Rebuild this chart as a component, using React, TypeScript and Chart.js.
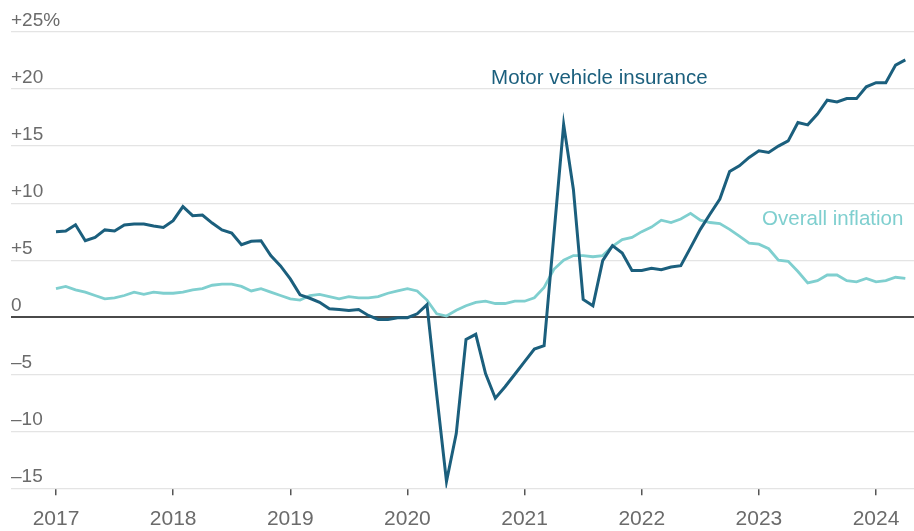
import React, { useEffect, useRef } from "react";
import { Chart, registerables } from "chart.js";

Chart.register(...registerables);

// Monthly data, January 2017 through April 2024 (year-over-year % change)
const START_YEAR = 2017;

const motorVehicleInsurance = [
  7.5, 7.56, 8.1, 6.7, 7.0, 7.65, 7.56, 8.08, 8.17, 8.17, 8.0, 7.87,
  8.46, 9.7, 8.9, 8.96, 8.25, 7.65, 7.38, 6.36, 6.65, 6.7, 5.4, 4.5,
  3.36, 1.96, 1.66, 1.31, 0.73, 0.67, 0.59, 0.67, 0.15, -0.2, -0.2, -0.05,
  -0.05, 0.3, 1.1, -6.8, -14.4, -10.2, -1.95, -1.5, -4.95, -7.1, -6.1, -5.0,
  -3.9, -2.8, -2.5, 7.2, 16.9, 11.2, 1.55, 1.0, 4.96, 6.27, 5.63, 4.09,
  4.09, 4.29, 4.17, 4.4, 4.52, 6.1, 7.7, 9.05, 10.36, 12.77, 13.27, 14.0,
  14.58, 14.44, 15.0, 15.45, 17.06, 16.86, 17.8, 19.02, 18.87, 19.16, 19.16, 20.2,
  20.56, 20.56, 22.1, 22.55,
];

const overallInflation = [
  2.5, 2.7, 2.4, 2.2, 1.9, 1.6, 1.7, 1.9, 2.2, 2.0, 2.2, 2.1,
  2.1, 2.2, 2.4, 2.5, 2.8, 2.9, 2.9, 2.7, 2.3, 2.5, 2.2, 1.9,
  1.6, 1.5, 1.9, 2.0, 1.8, 1.6, 1.8, 1.7, 1.7, 1.8, 2.1, 2.3,
  2.5, 2.3, 1.5, 0.3, 0.1, 0.6, 1.0, 1.3, 1.4, 1.2, 1.2, 1.4,
  1.4, 1.7, 2.6, 4.2, 5.0, 5.4, 5.4, 5.3, 5.4, 6.2, 6.8, 7.0,
  7.5, 7.9, 8.5, 8.3, 8.6, 9.1, 8.5, 8.3, 8.2, 7.7, 7.1, 6.5,
  6.4, 6.0, 5.0, 4.9, 4.0, 3.0, 3.2, 3.7, 3.7, 3.2, 3.1, 3.4,
  3.1, 3.2, 3.5, 3.4,
];

const yearTicks = [2017, 2018, 2019, 2020, 2021, 2022, 2023, 2024];
const yTickValues = [-15, -10, -5, 0, 5, 10, 15, 20, 25];

const X_MIN = 2016.616;
const X_MAX = 2024.324;
const Y_MIN = -15;
const Y_MAX = 25;

const MV_COLOR = "#1b5f7d";
const INF_COLOR = "#7fcfcf";
const FONT = "'Liberation Sans', Arial, sans-serif";

const seriesLabels = [
  { text: "Motor vehicle insurance", x: 2020.714, y: 20.97, color: MV_COLOR },
  { text: "Overall inflation", x: 2023.027, y: 8.55, color: INF_COLOR },
];

function yLabel(v: number): string {
  if (v === 25) return "+25%";
  if (v > 0) return "+" + v;
  if (v < 0) return "\u2013" + Math.abs(v);
  return "0";
}

const toPoints = (arr: number[]) =>
  arr.map((v, i) => ({ x: START_YEAR + i / 12, y: v }));

const labelPlugin = {
  id: "seriesLabels",
  afterDatasetsDraw(chart: any) {
    const { ctx, scales } = chart;
    const xs = scales.x;
    const ys = scales.y;
    ctx.save();
    ctx.font = `20.5px ${FONT}`;
    ctx.textBaseline = "middle";
    ctx.textAlign = "left";
    for (const l of seriesLabels) {
      ctx.fillStyle = l.color;
      ctx.fillText(l.text, xs.getPixelForValue(l.x), ys.getPixelForValue(l.y));
    }
    ctx.restore();
  },
};

export default function App() {
  const canvasRef = useRef<HTMLCanvasElement | null>(null);

  useEffect(() => {
    document.body.style.margin = "0";
    const canvas = canvasRef.current;
    if (!canvas) return;
    const chart = new Chart(canvas, {
      type: "line",
      data: {
        datasets: [
          {
            label: "Motor vehicle insurance",
            data: toPoints(motorVehicleInsurance),
            borderColor: MV_COLOR,
            borderWidth: 3,
            pointRadius: 0,
            tension: 0,
            fill: false,
          },
          {
            label: "Overall inflation",
            data: toPoints(overallInflation),
            borderColor: INF_COLOR,
            borderWidth: 2.8,
            pointRadius: 0,
            tension: 0,
            fill: false,
          },
        ],
      },
      options: {
        responsive: false,
        animation: false,
        devicePixelRatio: 1,
        layout: { padding: { left: 11, right: 0, top: 32, bottom: 0 } },
        plugins: {
          legend: { display: false },
          tooltip: { enabled: false },
          title: { display: false },
        },
        scales: {
          x: {
            type: "linear",
            min: X_MIN,
            max: X_MAX,
            afterBuildTicks: (scale: any) => {
              scale.ticks = yearTicks.map((v) => ({ value: v }));
            },
            afterFit: (scale: any) => {
              scale.height = 42.7;
            },
            border: { display: false },
            grid: {
              display: true,
              drawOnChartArea: false,
              drawTicks: true,
              tickLength: 7,
              color: "#555",
              lineWidth: 1.5,
            },
            ticks: {
              autoSkip: false,
              maxRotation: 0,
              padding: 11,
              color: "#6b6b6b",
              font: { family: FONT, size: 21 },
              callback: (v: any) => String(v),
            },
          },
          y: {
            type: "linear",
            min: Y_MIN,
            max: Y_MAX,
            afterBuildTicks: (scale: any) => {
              scale.ticks = yTickValues.map((v) => ({ value: v }));
            },
            afterFit: (scale: any) => {
              scale.paddingTop = 0;
              scale.paddingBottom = 0;
            },
            border: { display: false },
            grid: {
              drawTicks: false,
              color: (c: any) => (c.tick && c.tick.value === 0 ? "#4a4a4a" : "#e4e4e4"),
              lineWidth: (c: any) => (c.tick && c.tick.value === 0 ? 2 : 1.2),
            },
            ticks: {
              mirror: true,
              padding: 0,
              labelOffset: -11.5,
              color: "#6b6b6b",
              font: { family: FONT, size: 19 },
              callback: (v: any) => yLabel(Number(v)),
            },
          },
        },
      },
      plugins: [labelPlugin],
    });
    return () => chart.destroy();
  }, []);

  return (
    <div style={{ position: "absolute", left: 0, top: 0, width: 914, height: 531, background: "#fff" }}>
      <canvas ref={canvasRef} width={914} height={531} />
    </div>
  );
}
